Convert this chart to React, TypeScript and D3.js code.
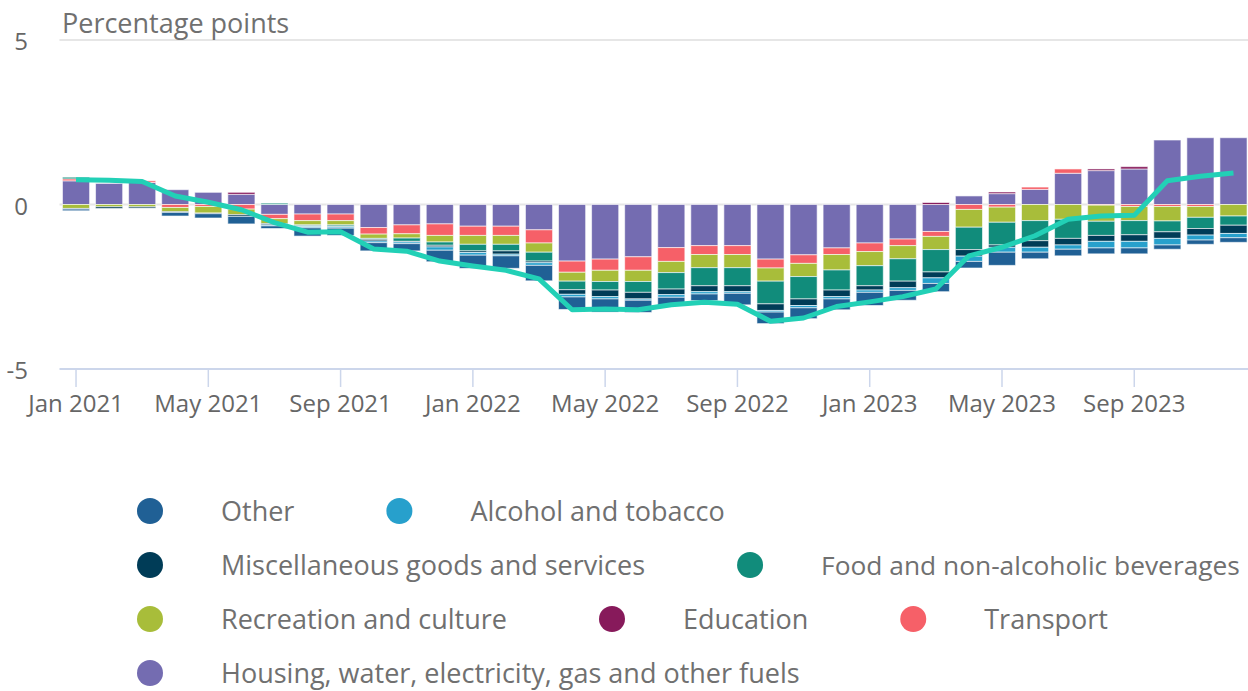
import React from "react";
import * as d3 from "d3";

const months = [
  "Jan 2021", "Feb 2021", "Mar 2021", "Apr 2021", "May 2021", "Jun 2021",
  "Jul 2021", "Aug 2021", "Sep 2021", "Oct 2021", "Nov 2021", "Dec 2021",
  "Jan 2022", "Feb 2022", "Mar 2022", "Apr 2022", "May 2022", "Jun 2022",
  "Jul 2022", "Aug 2022", "Sep 2022", "Oct 2022", "Nov 2022", "Dec 2022",
  "Jan 2023", "Feb 2023", "Mar 2023", "Apr 2023", "May 2023", "Jun 2023",
  "Jul 2023", "Aug 2023", "Sep 2023", "Oct 2023", "Nov 2023", "Dec 2023",
];
const tickLabels = ["Jan 2021", "May 2021", "Sep 2021", "Jan 2022", "May 2022", "Sep 2022", "Jan 2023", "May 2023", "Sep 2023"];
const yTicks = [5, 0, -5];

const housing = [0.72, 0.64, 0.67, 0.45, 0.37, 0.31, -0.3, -0.29, -0.29, -0.7, -0.62, -0.59, -0.66, -0.66, -0.77, -1.72, -1.66, -1.59, -1.31, -1.25, -1.25, -1.66, -1.53, -1.32, -1.17, -1.05, -0.82, 0.26, 0.33, 0.46, 0.95, 1.03, 1.08, 1.96, 2.03, 2.03];
const transport = [0.06, 0, 0.05, -0.09, -0.06, -0.14, -0.13, -0.2, -0.2, -0.2, -0.27, -0.35, -0.28, -0.28, -0.4, -0.34, -0.34, -0.41, -0.42, -0.27, -0.27, -0.27, -0.26, -0.2, -0.26, -0.2, -0.15, -0.15, -0.08, 0.07, 0.13, -0.02, -0.06, -0.06, -0.06, 0];
const education = [0, 0, 0, 0, 0, 0.06, 0, 0, 0, 0, 0, 0, 0, 0, 0, 0, 0, 0, 0, 0, 0, 0, 0, 0, 0, 0, 0.06, 0, 0.05, 0, 0, 0.05, 0.07, 0, 0, 0];
const recreation = [-0.12, -0.07, -0.07, -0.13, -0.2, -0.17, -0.15, -0.13, -0.13, -0.13, -0.13, -0.2, -0.27, -0.27, -0.28, -0.27, -0.34, -0.34, -0.34, -0.4, -0.4, -0.4, -0.4, -0.47, -0.43, -0.4, -0.4, -0.54, -0.46, -0.49, -0.45, -0.49, -0.43, -0.44, -0.33, -0.35];
const food = [0.05, 0, 0, 0, 0, 0, 0.04, -0.03, -0.04, -0.03, -0.1, -0.1, -0.2, -0.2, -0.27, -0.26, -0.26, -0.33, -0.5, -0.55, -0.55, -0.69, -0.68, -0.61, -0.61, -0.68, -0.68, -0.68, -0.69, -0.61, -0.58, -0.43, -0.43, -0.33, -0.34, -0.28];
const misc = [-0.02, -0.05, -0.04, -0.02, -0.02, -0.05, -0.04, -0.02, -0.02, -0.05, -0.02, -0.05, -0.05, -0.1, -0.05, -0.14, -0.2, -0.2, -0.17, -0.18, -0.18, -0.2, -0.2, -0.2, -0.13, -0.2, -0.18, -0.2, -0.07, -0.2, -0.2, -0.18, -0.2, -0.2, -0.2, -0.25];
const alcohol = [0, 0, 0, 0, 0, 0, -0.03, -0.04, -0.04, -0.05, -0.05, -0.1, -0.08, -0.05, -0.08, -0.08, -0.07, -0.04, -0.08, -0.07, -0.05, -0.05, -0.07, -0.07, -0.07, -0.08, -0.17, -0.16, -0.15, -0.15, -0.13, -0.2, -0.2, -0.2, -0.15, -0.13];
const other = [-0.05, 0, 0, -0.11, -0.13, -0.23, -0.08, -0.25, -0.22, -0.25, -0.22, -0.35, -0.4, -0.38, -0.47, -0.38, -0.4, -0.37, -0.25, -0.2, -0.35, -0.35, -0.33, -0.33, -0.4, -0.3, -0.25, -0.2, -0.4, -0.2, -0.2, -0.18, -0.18, -0.13, -0.13, -0.14];
const total = [0.75, 0.74, 0.7, 0.26, 0.07, -0.16, -0.55, -0.84, -0.83, -1.35, -1.42, -1.72, -1.87, -2.0, -2.26, -3.2, -3.18, -3.2, -3.05, -2.97, -3.03, -3.55, -3.45, -3.1, -2.96, -2.8, -2.57, -1.56, -1.3, -0.95, -0.45, -0.35, -0.33, 0.72, 0.86, 0.96];

// stacking order: first key sits next to zero
const series = [
  { name: "Housing, water, electricity, gas and other fuels", color: "#746cb1", values: housing },
  { name: "Transport", color: "#f66068", values: transport },
  { name: "Education", color: "#871a5b", values: education },
  { name: "Recreation and culture", color: "#a8bd3a", values: recreation },
  { name: "Food and non-alcoholic beverages", color: "#118c7b", values: food },
  { name: "Miscellaneous goods and services", color: "#003c57", values: misc },
  { name: "Alcohol and tobacco", color: "#27a0cc", values: alcohol },
  { name: "Other", color: "#206095", values: other },
];

const legendRows = [
  ["Other", "Alcohol and tobacco"],
  ["Miscellaneous goods and services", "Food and non-alcoholic beverages"],
  ["Recreation and culture", "Education", "Transport"],
  ["Housing, water, electricity, gas and other fuels"],
];

const W = 1248;
const H = 691;
const FONT = "'Open Sans', sans-serif";

function measure(text: string, size: number) {
  const ctx = document.createElement("canvas").getContext("2d");
  if (!ctx) return text.length * size * 0.55;
  ctx.font = `${size}px 'Open Sans'`;
  return ctx.measureText(text).width;
}

export default function App() {
  const x = d3.scaleBand<string>()
    .domain(months)
    .range([59.5, 59.5 + 36 * 33.07])
    .paddingInner(0.18)
    .paddingOuter(0.09);
  const y = d3.scaleLinear().domain([-5, 5]).range([369, 40]);

  const rows = months.map((m, i) => {
    const r: any = { month: m };
    series.forEach((s) => (r[s.name] = s.values[i]));
    return r;
  });
  const stacked = d3.stack<any>()
    .keys(series.map((s) => s.name))
    .offset(d3.stackOffsetDiverging)(rows);

  const cx = (m: string) => (x(m) ?? 0) + x.bandwidth() / 2;
  const line = d3.line<number>()
    .x((_, i) => cx(months[i]))
    .y((d) => y(d));

  const colorOf = (n: string) => series.find((s) => s.name === n)!.color;

  const legendItems: { name: string; cx: number; tx: number; cy: number; size: number }[] = [];
  legendRows.forEach((row, ri) => {
    let x0 = 137;
    const cy = 511 + ri * 54;
    row.forEach((name) => {
      const tx = x0 + 84;
      const w = measure(name, 27);
      // shrink a label that would run past the right edge
      const room = W - 8 - tx;
      const size = w > room ? 27 * room / w : 27;
      legendItems.push({ name, cx: x0 + 13, tx, cy, size });
      x0 = tx + w + 92;
    });
  });

  return (
    <svg width={W} height={H} style={{ position: "absolute", left: 0, top: 0, fontFamily: FONT }}>
      {/* grid */}
      {yTicks.filter((t) => t !== -5).map((t) => (
        <line key={t} x1={59.5} x2={W} y1={y(t)} y2={y(t)} stroke="#e6e6e6" strokeWidth={2} />
      ))}
      <line x1={59.5} x2={W} y1={y(-5)} y2={y(-5)} stroke="#ccd6eb" strokeWidth={2} />
      {tickLabels.map((t) => (
        <g key={t}>
          <line x1={cx(t)} x2={cx(t)} y1={y(-5)} y2={y(-5) + 18} stroke="#ccd6eb" strokeWidth={1.5} />
          <text x={cx(t)} y={412} textAnchor="middle" fontSize={24} fill="#666">{t}</text>
        </g>
      ))}
      {yTicks.map((t) => (
        <text key={t} x={28} y={y(t) + 10} textAnchor="end" fontSize={24} fill="#666">{t}</text>
      ))}
      <text x={62} y={33} fontSize={27} fill="#707070">Percentage points</text>

      {/* bars */}
      {stacked.map((layer) => (
        <g key={layer.key} fill={colorOf(layer.key)}>
          {layer.map((d, i) => {
            const top = y(Math.max(d[0], d[1]));
            const h = Math.abs(y(d[0]) - y(d[1]));
            if (h < 0.01) return null;
            return (
              <rect key={i} x={x(months[i])} y={top} width={x.bandwidth()} height={h}
                stroke="#ffffff" strokeWidth={1} strokeOpacity={0.6} />
            );
          })}
        </g>
      ))}

      <path d={line(total) ?? ""} fill="none" stroke="#22d0b6" strokeWidth={5} strokeLinejoin="round" />

      {/* legend */}
      {legendItems.map((it) => (
        <g key={it.name}>
          <circle cx={it.cx} cy={it.cy} r={13} fill={colorOf(it.name)} />
          <text x={it.tx} y={it.cy + 10} fontSize={it.size} fill="#707070">{it.name}</text>
        </g>
      ))}
    </svg>
  );
}
